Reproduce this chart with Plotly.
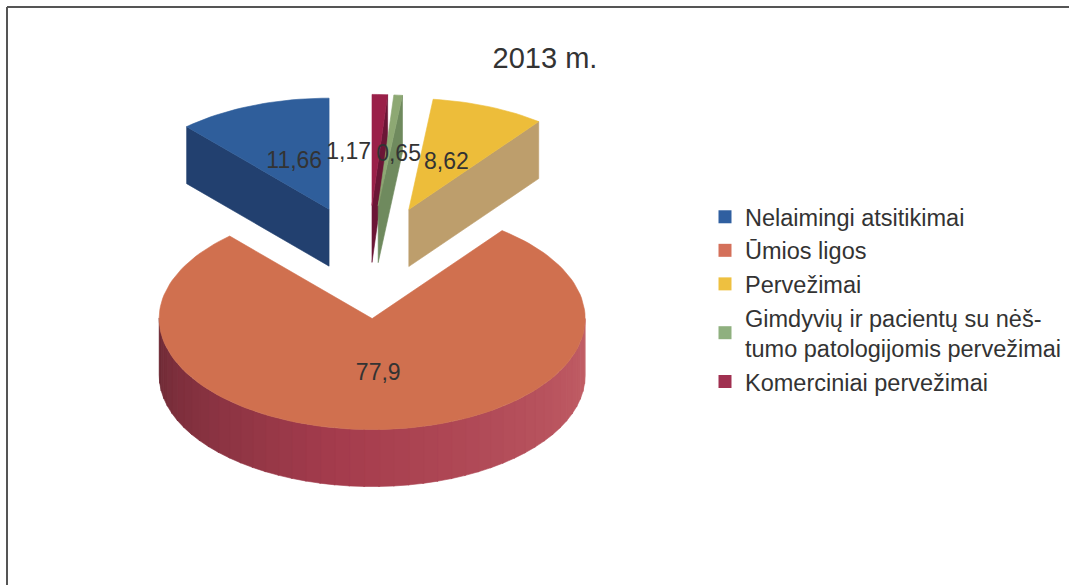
import math
import plotly.graph_objects as go

# ---- data ----
title = "2013 m."
categories = ["Nelaimingi atsitikimai", "Ūmios ligos", "Pervežimai",
              "Gimdyvių ir pacientų su nėš-<br>tumo patologijomis pervežimai",
              "Komerciniai pervežimai"]
values = [11.66, 77.9, 8.62, 0.65, 1.17]
value_labels = ["11,66", "77,9", "8,62", "0,65", "1,17"]

# ---- styles ----
top_colors = ["#2F5E9B", "#D0704F", "#EDBD3A", "#8DA873", "#9A2049"]
wall_colors = ["#22406F", "#A63E4C", "#BD9E6C", "#6F8A5E", "#6B1636"]
legend_colors = ["#2F5FA0", "#D4705A", "#EEC040", "#8FB07F", "#A03050"]
TEXT = "#333333"
FONT = "Liberation Sans"

# ---- 3-D pie projection, in figure pixels ----
CX, CY = 368.0, 262.0      # pie centre
RX, RY = 213.0, 111.0      # ellipse radii
DEPTH = 57.0               # pie thickness
EXPLODE = 0.51             # pull-out, share of radius
LABEL_R = 0.47
label_shift = {0: (1, 2), 1: (2, 0), 2: (0, 2), 3: (11, 2), 4: (-27, 0)}


def rim(apex, deg, drop=0.0, r=1.0):
    t = math.radians(deg)
    return apex[0] + RX * r * math.sin(t), apex[1] - RY * r * math.cos(t) + drop


def arc(apex, a, b, drop=0.0):
    n = max(2, int(abs(b - a) / 2) + 2)
    return [rim(apex, a + (b - a) * i / (n - 1), drop) for i in range(n)]


def mix(c1, c2, f):
    a = [int(c1[i:i + 2], 16) for i in (1, 3, 5)]
    b = [int(c2[i:i + 2], 16) for i in (1, 3, 5)]
    return "#%02x%02x%02x" % tuple(round(p + (q - p) * f) for p, q in zip(a, b))


fig = go.Figure()


def poly(points, color):
    fig.add_trace(go.Scatter(
        x=[p[0] for p in points] + [points[0][0]],
        y=[p[1] for p in points] + [points[0][1]],
        mode="lines", fill="toself", fillcolor=color,
        line=dict(color=color, width=0.6), hoverinfo="skip", showlegend=False))


# slices run clockwise from 12 o'clock in reverse series order
total = sum(values)
spans = {}
angle = 0.0
for i in [4, 3, 2, 1, 0]:
    sweep = 360.0 * values[i] / total
    spans[i] = (angle, angle + sweep)
    angle += sweep

apexes = {}
for i, (a, b) in spans.items():
    mid = (a + b) / 2
    apexes[i] = rim((CX, CY), mid, 0.0, EXPLODE)

for i in [0, 2, 4, 3, 1]:
    a, b = spans[i]
    ap = apexes[i]
    # visible cut faces
    if math.sin(math.radians(a)) < -0.001:
        p, q = rim(ap, a), ap
        poly([p, q, (q[0], q[1] + DEPTH), (p[0], p[1] + DEPTH)], wall_colors[i])
    if math.sin(math.radians(b)) > 0.001:
        p, q = ap, rim(ap, b)
        poly([p, q, (q[0], q[1] + DEPTH), (p[0], p[1] + DEPTH)], wall_colors[i])
    # visible outer wall, shaded from right to left
    lo, hi = max(a, 90.0), min(b, 270.0)
    if hi > lo:
        step = (hi - lo) / 45
        for k in range(45):
            s, e = lo + k * step, lo + (k + 1) * step + 0.3
            f = k / 44
            if i == 1:
                color = mix("#C25F66", "#A53C4D", min(1, f / 0.55)) if f < 0.55 \
                    else mix("#A53C4D", "#6E2A36", (f - 0.55) / 0.45)
            else:
                color = wall_colors[i]
            poly(arc(ap, s, e) + arc(ap, e, s, DEPTH), color)
    # top face
    poly([ap] + arc(ap, a, b), top_colors[i])

# data labels
lx, ly = [], []
for i in range(len(values)):
    a, b = spans[i]
    r = 0.5 if i == 1 else LABEL_R
    x, y = rim(apexes[i], (a + b) / 2, 0.0, r)
    lx.append(x + label_shift[i][0])
    ly.append(y + label_shift[i][1])
fig.add_trace(go.Scatter(x=lx, y=ly, mode="text", text=value_labels,
                         textposition="middle center",
                         textfont=dict(family=FONT, size=23, color=TEXT),
                         hoverinfo="skip", showlegend=False))

# legend entries
for i, name in enumerate(categories):
    fig.add_trace(go.Scatter(x=[None], y=[None], mode="markers", name=name,
                             legendgroup=f"g{i}",
                             marker=dict(symbol="square", size=13, color=legend_colors[i])))

fig.update_layout(
    width=1069, height=585,
    margin=dict(l=0, r=0, t=0, b=0),
    paper_bgcolor="white", plot_bgcolor="white",
    xaxis=dict(range=[0, 1069], visible=False, fixedrange=True),
    yaxis=dict(range=[585, 0], visible=False, fixedrange=True),
    font=dict(family=FONT, color=TEXT),
    title=dict(text=title, x=545 / 1069, xanchor="center", y=1 - 58 / 585, yanchor="middle",
               font=dict(family=FONT, size=29, color=TEXT)),
    legend=dict(x=705 / 1069, y=1 - 195 / 585, xanchor="left", yanchor="top",
                font=dict(family=FONT, size=23.5, color=TEXT),
                bgcolor="rgba(0,0,0,0)", tracegroupgap=0, itemclick=False, itemdoubleclick=False),
    shapes=[
        dict(type="line", xref="x", yref="y", x0=7, y0=7, x1=1069, y1=7,
             line=dict(color="#555555", width=2)),
        dict(type="line", xref="x", yref="y", x0=7, y0=7, x1=7, y1=585,
             line=dict(color="#555555", width=2)),
    ],
)

fig.write_html("out.html", config=dict(displayModeBar=False),
               post_script="document.body.style.margin='0';")
